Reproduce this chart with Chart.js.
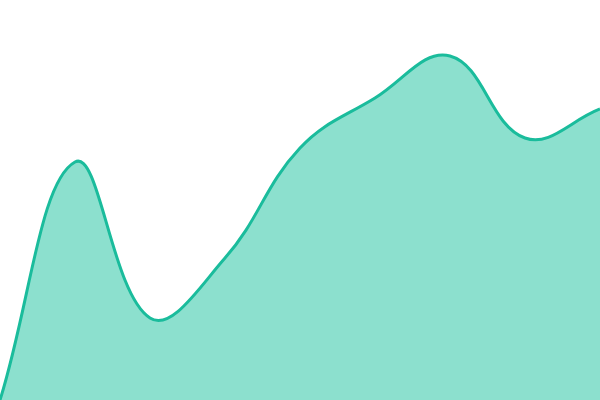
<!DOCTYPE html>
<html>
<head>
<meta charset="utf-8">
<script src="https://cdn.jsdelivr.net/npm/chart.js@4"></script>
<style>
  html, body { margin: 0; padding: 0; background: #fff; }
  #wrap { width: 600px; height: 400px; }
</style>
</head>
<body>
<div id="wrap"><canvas id="areaChart"></canvas></div>
<script>
// values (scale 0-100)
const labels = ["1", "2", "3", "4", "5", "6", "7", "8", "9"];
const values = [0, 59.5, 20.5, 35.5, 63, 75.5, 86, 65.5, 72.75];
const yMin = 0;
const yMax = 100;

new Chart(document.getElementById("areaChart"), {
  type: "line",
  data: {
    labels,
    datasets: [{
      data: values,
      borderColor: "#1abc9c",
      backgroundColor: "rgba(26, 194, 158, 0.5)",
      borderWidth: 3,
      fill: true,
      tension: 0.4,
      pointRadius: 0
    }]
  },
  options: {
    responsive: true,
    maintainAspectRatio: false,
    animation: false,
    layout: { padding: 0 },
    plugins: { legend: { display: false }, tooltip: { enabled: false } },
    scales: {
      x: { display: false },
      y: { display: false, min: yMin, max: yMax }
    }
  }
});
</script>
</body>
</html>
